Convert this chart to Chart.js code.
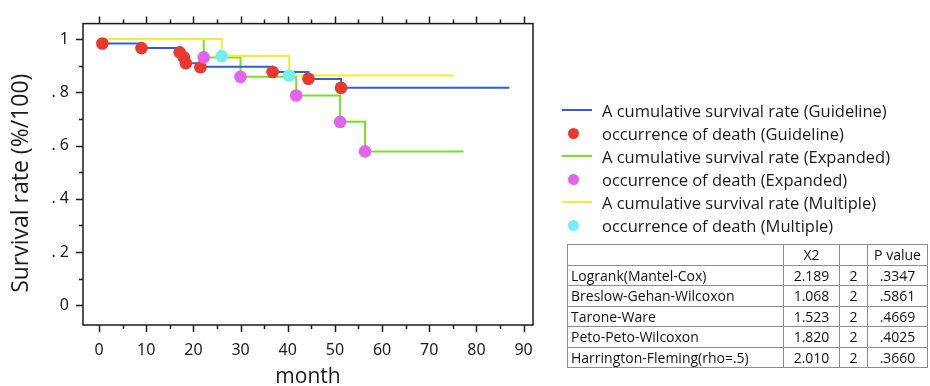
<!DOCTYPE html>
<html>
<head>
<meta charset="utf-8">
<script src="https://cdn.jsdelivr.net/npm/chart.js@4/dist/chart.umd.min.js"></script>
<style>
  body { margin: 0; background: #fff; }
  #wrap { position: relative; width: 930px; height: 386px; overflow: hidden; font-family: "Open Sans", "Noto Sans", sans-serif; }
  #chart { position: absolute; left: 0; top: 0; }
  #legend { position: absolute; left: 562px; top: 99px; }
  .item { position: relative; height: 23px; line-height: 23px; font-size: 16.5px; color: #1a1a1a; padding-left: 40px; white-space: nowrap; }
  .item .ln { position: absolute; left: 0; top: 10px; width: 30px; height: 2px; }
  .item .dot { position: absolute; left: 6px; top: 6px; width: 11px; height: 11px; border-radius: 50%; }
  #stats { position: absolute; left: 567px; top: 244px; border-collapse: collapse; font-size: 14px; color: #111; }
  #stats td { border: 1px solid #8c8c8c; height: 19.5px; padding: 0 3px; text-align: center; white-space: nowrap; line-height: 19px; }
  #stats td:first-child { text-align: left; width: 209px; }
</style>
</head>
<body>
<div id="wrap">
  <canvas id="chart" width="930" height="386"></canvas>
  <div id="legend"></div>
  <table id="stats"></table>
</div>
<script>
// Eixos
const xTickValues = [0, 5, 10, 15, 20, 25, 30, 35, 40, 45, 50, 55, 60, 65, 70, 75, 80, 85, 90];
const xLabelValues = [0, 10, 20, 30, 40, 50, 60, 70, 80, 90];
const yTickValues = [0, 0.1, 0.2, 0.3, 0.4, 0.5, 0.6, 0.7, 0.8, 0.9, 1];
const yLabelValues = [0, 0.2, 0.4, 0.6, 0.8, 1];
const yTickLabels = ['0', '. 2', '. 4', '. 6', '. 8', '1'];

// Curvas de sobrevida (month, rate)
const guidelineMonths = [0, 9, 17.1, 18, 18.4, 21.5, 36.8, 44.4, 51.3, 87];
const guidelineRates = [0.983, 0.966, 0.95, 0.931, 0.909, 0.896, 0.876, 0.85, 0.817, 0.817];
const expandedMonths = [0, 22.2, 30, 41.8, 51.1, 56.4, 77.3];
const expandedRates = [1, 0.931, 0.858, 0.788, 0.689, 0.578, 0.578];
const multipleMonths = [0, 26, 40.3, 75.2];
const multipleRates = [1, 0.936, 0.863, 0.863];

// Óbitos
const guidelineDeathMonths = [0.7, 9, 17.1, 18, 18.4, 21.5, 36.8, 44.4, 51.3];
const guidelineDeathRates = [0.983, 0.966, 0.95, 0.931, 0.909, 0.894, 0.876, 0.851, 0.817];
const expandedDeathMonths = [22.2, 30, 41.8, 51.1, 56.4];
const expandedDeathRates = [0.931, 0.858, 0.788, 0.689, 0.578];
const multipleDeathMonths = [26, 40.3];
const multipleDeathRates = [0.936, 0.863];

// Tabela de testes
const testNames = ['Logrank(Mantel-Cox)', 'Breslow-Gehan-Wilcoxon', 'Tarone-Ware', 'Peto-Peto-Wilcoxon', 'Harrington-Fleming(rho=.5)'];
const chiSquare = ['2.189', '1.068', '1.523', '1.820', '2.010'];
const degrees = ['2', '2', '2', '2', '2'];
const pValues = ['.3347', '.5861', '.4669', '.4025', '.3660'];

const legendLabels = [
  'A cumulative survival rate (Guideline)',
  'occurrence of death (Guideline)',
  'A cumulative survival rate (Expanded)',
  'occurrence of death (Expanded)',
  'A cumulative survival rate (Multiple)',
  'occurrence of death (Multiple)'
];

const BLUE = '#2b5fe8';
const RED = '#e8392d';
const GREEN = '#72e61a';
const MAGENTA = '#e462ee';
const YELLOW = '#f7ec2a';
const CYAN = '#74eef0';

function toPoints(xs, ys) {
  return xs.map((x, i) => ({ x: x, y: ys[i] }));
}

function stepLine(label, xs, ys, color, order) {
  return {
    type: 'line', label: label, data: toPoints(xs, ys),
    borderColor: color, borderWidth: 2, stepped: true,
    pointRadius: 0, fill: false, order: order
  };
}

function deaths(label, xs, ys, color, order) {
  return {
    type: 'scatter', label: label, data: toPoints(xs, ys),
    backgroundColor: color, borderColor: color, borderWidth: 0,
    pointRadius: 6.3, order: order
  };
}

// Moldura e marcas dos eixos
const frameTicks = {
  id: 'frameTicks',
  afterDraw(chart) {
    const { ctx, chartArea: a, scales: { x, y } } = chart;
    ctx.save();
    ctx.strokeStyle = '#1a1a1a';
    ctx.lineWidth = 1.5;
    ctx.strokeRect(a.left, a.top, a.right - a.left, a.bottom - a.top);
    ctx.beginPath();
    xTickValues.forEach(v => {
      const px = Math.round(x.getPixelForValue(v)) + 0.5;
      const len = v % 10 === 0 ? 7 : 4;
      ctx.moveTo(px, a.bottom); ctx.lineTo(px, a.bottom + len);
      ctx.moveTo(px, a.top); ctx.lineTo(px, a.top - len);
    });
    yTickValues.forEach((v, i) => {
      const py = Math.round(y.getPixelForValue(v)) + 0.5;
      const len = i % 2 === 0 ? 7 : 4;
      ctx.moveTo(a.left, py); ctx.lineTo(a.left - len, py);
    });
    ctx.stroke();
    ctx.restore();
  }
};

new Chart(document.getElementById('chart').getContext('2d'), {
  data: {
    datasets: [
      stepLine(legendLabels[0], guidelineMonths, guidelineRates, BLUE, 5),
      deaths(legendLabels[1], guidelineDeathMonths, guidelineDeathRates, RED, 3),
      stepLine(legendLabels[2], expandedMonths, expandedRates, GREEN, 6),
      deaths(legendLabels[3], expandedDeathMonths, expandedDeathRates, MAGENTA, 2),
      stepLine(legendLabels[4], multipleMonths, multipleRates, YELLOW, 4),
      deaths(legendLabels[5], multipleDeathMonths, multipleDeathRates, CYAN, 1)
    ]
  },
  options: {
    responsive: false,
    animation: false,
    layout: { padding: { top: 17, right: 397, left: 0, bottom: 0 } },
    plugins: { legend: { display: false }, tooltip: { enabled: false } },
    scales: {
      x: {
        type: 'linear', min: -3.4, max: 92,
        afterBuildTicks: s => { s.ticks = xLabelValues.map(v => ({ value: v })); },
        afterFit: s => { s.height = 61; },
        grid: { display: false, drawTicks: false },
        border: { display: false },
        ticks: { color: '#1a1a1a', padding: 16, font: { family: 'Noto Sans', size: 16 }, callback: v => String(v) },
        title: { display: true, text: 'month', color: '#1a1a1a', font: { family: 'Open Sans', size: 21, lineHeight: 1 }, padding: { top: 0, bottom: -2 } }
      },
      y: {
        type: 'linear', min: -0.074, max: 1.058,
        afterBuildTicks: s => { s.ticks = yLabelValues.map(v => ({ value: v })); },
        afterFit: s => { s.width = 83; },
        grid: { display: false, drawTicks: false },
        border: { display: false },
        ticks: { color: '#1a1a1a', padding: 14, font: { family: 'Noto Sans', size: 16 }, callback: (v, i) => yTickLabels[i] },
        title: { display: true, text: 'Survival rate (%/100)   ', color: '#1a1a1a', font: { family: 'Open Sans', size: 23, lineHeight: 1 }, padding: { top: 10, bottom: 0 } }
      }
    }
  },
  plugins: [frameTicks]
});

// Legenda
const legendColors = [BLUE, RED, GREEN, MAGENTA, YELLOW, CYAN];
const legend = document.getElementById('legend');
legendLabels.forEach((txt, i) => {
  const row = document.createElement('div');
  row.className = 'item';
  const mark = document.createElement('span');
  mark.className = i % 2 === 0 ? 'ln' : 'dot';
  mark.style.background = legendColors[i];
  row.appendChild(mark);
  row.appendChild(document.createTextNode(txt));
  legend.appendChild(row);
});

// Tabela
const table = document.getElementById('stats');
table.insertAdjacentHTML('beforeend', '<tr><td></td><td style="width:49px">X2</td><td style="width:21px"></td><td style="width:53px">P value</td></tr>');
testNames.forEach((name, i) => {
  table.insertAdjacentHTML('beforeend',
    `<tr><td>${name}</td><td>${chiSquare[i]}</td><td>${degrees[i]}</td><td>${pValues[i]}</td></tr>`);
});
</script>
</body>
</html>
